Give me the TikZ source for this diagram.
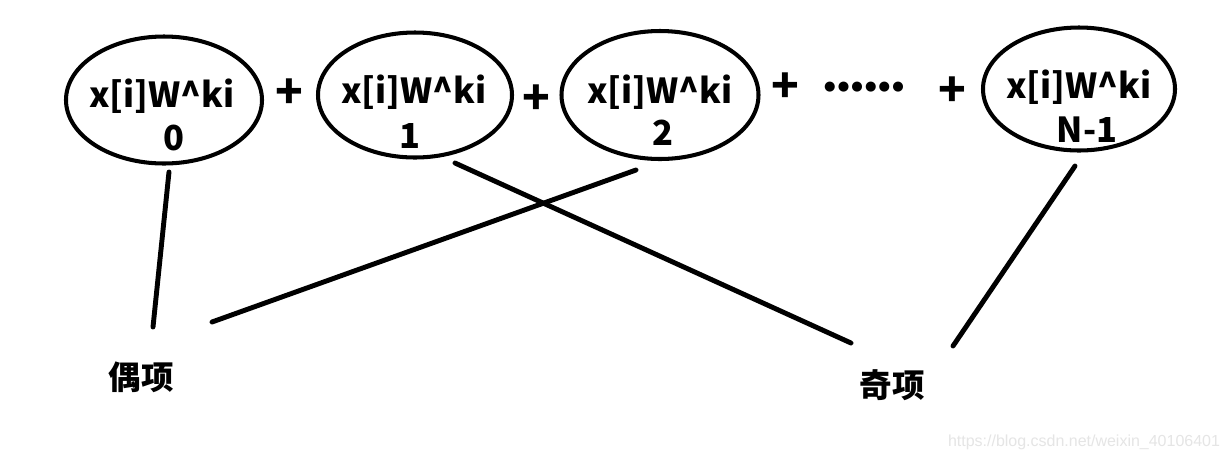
\documentclass[tikz,border=0pt]{standalone}
\usepackage{fontspec}
\newfontfamily\cjk{Noto Sans CJK SC}
\newfontfamily\wmfont{Liberation Sans}
\newfontfamily\dotfont{DejaVu Sans}
\usetikzlibrary{shapes.geometric}
\newcommand\mydotrow{●\kern1.2pt●\kern1.2pt●\kern1.2pt●\kern1.2pt●\kern1.2pt●}
\begin{document}
\begin{tikzpicture}[x=0.02cm,y=-0.02cm,
  ell/.style={ellipse, draw, line width=2.3pt, inner sep=0pt, outer sep=0pt},
  term/.style={font=\cjk\bfseries\fontsize{19.6}{22}\selectfont, inner sep=0pt, anchor=base},
  plus/.style={font=\cjk\bfseries\fontsize{26}{28}\selectfont, inner sep=0pt},
  dotsty/.style={font=\dotfont\fontsize{7.5}{9}\selectfont, inner sep=0pt},
  lbl/.style={font=\cjk\bfseries\fontsize{18.5}{20}\selectfont, inner sep=0pt},
  conn/.style={line width=2.8pt, line cap=round},
  wm/.style={font=\wmfont\fontsize{9.1}{11}\selectfont, text=black!10, inner sep=0pt}]
\fill[white] (0,0) rectangle (1228,461);
\useasboundingbox (0,0) rectangle (1228,461);

% ellipses
\node[ell, minimum width={196*0.02cm}, minimum height={127*0.02cm}] (e0) at (164,100) {};
\node[ell, minimum width={194*0.02cm}, minimum height={125*0.02cm}] (e1) at (415,95) {};
\node[ell, minimum width={197*0.02cm}, minimum height={128*0.02cm}] (e2) at (660,95) {};
\node[ell, minimum width={192*0.02cm}, minimum height={123*0.02cm}] (eN) at (1079,89) {};

% texts
\node[term] (t0a) at (162,107) {x[i]W\^{}ki};
\node[term] (t0b) at (174,150) {0};
\node[term] (t1a) at (414,103) {x[i]W\^{}ki};
\node[term] (t1b) at (410,148) {1};
\node[term] (t2a) at (660,103) {x[i]W\^{}ki};
\node[term] (t2b) at (663,145) {2};
\node[term] (tNa) at (1079,98) {x[i]W\^{}ki};
\node[term] (tNb) at (1087,142) {N-1};

% plus signs and dots
\node[plus] (p1) at (289,94) {+};
\node[plus] (p2) at (536,100) {+};
\node[plus] (p3) at (785,88) {+};
\node[plus] (p4) at (952,92) {+};
\node[dotsty] (dots) at (864,87) {\mydotrow};

% labels
\node[lbl] (even) at (141,377) {偶项};
\node[lbl] (odd) at (892,385) {奇项};

% connector end points
\coordinate (c0) at (169,172);
\coordinate (c0e) at (153,327);
\coordinate (c2) at (636,170);
\coordinate (c2e) at (212,322);
\coordinate (c1) at (455,163);
\coordinate (c1o) at (851,343);
\coordinate (cN) at (1075,166);
\coordinate (cNo) at (953,346);

\draw[conn] (c0) -- (c0e);
\draw[conn] (c2) -- (c2e);
\draw[conn] (c1) -- (c1o);
\draw[conn] (cN) -- (cNo);

% watermark
\node[wm] (mark) at (1084,442) {https://blog.csdn.net/weixin\_40106401};
\end{tikzpicture}
\end{document}
